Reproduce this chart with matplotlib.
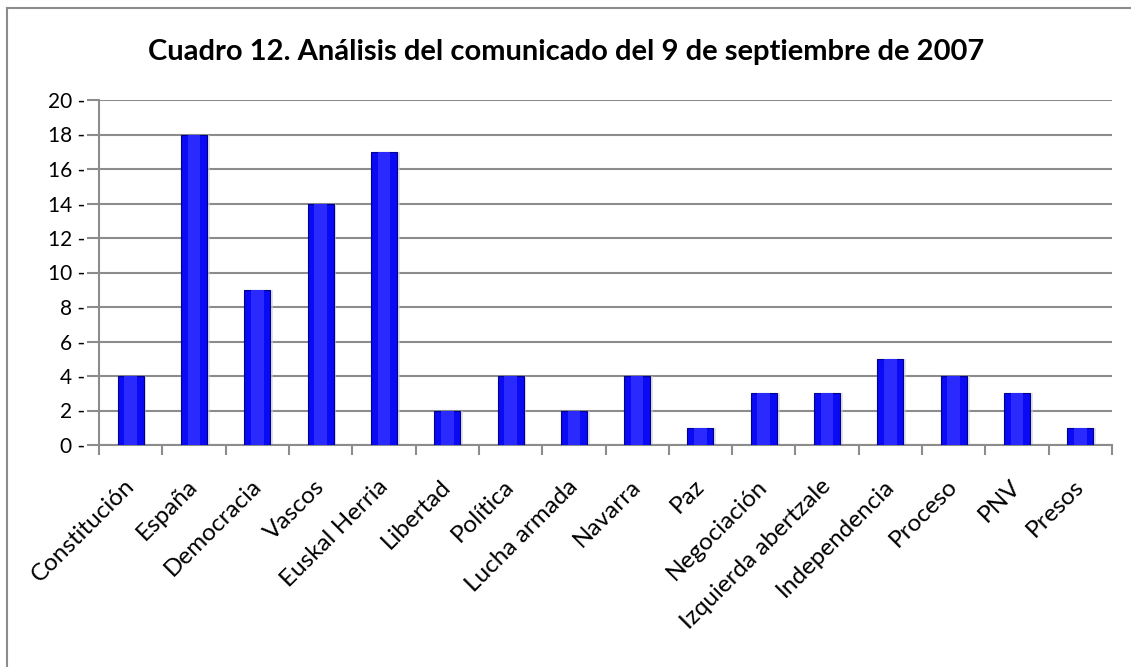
import matplotlib
matplotlib.use("Agg")
import matplotlib.pyplot as plt
import matplotlib.transforms as mtransforms
import numpy as np

categories = ["Constitución", "España", "Democracia", "Vascos", "Euskal Herria", "Libertad",
              "Política", "Lucha armada", "Navarra", "Paz", "Negociación", "Izquierda abertzale",
              "Independencia", "Proceso", "PNV", "Presos"]
values = [4, 18, 9, 14, 17, 2, 4, 2, 4, 1, 3, 3, 5, 4, 3, 1]
yticks = [0, 2, 4, 6, 8, 10, 12, 14, 16, 18, 20]
title = "Cuadro 12. Análisis del comunicado del 9 de septiembre de 2007"

plt.rcParams['font.family'] = ['Lato', 'DejaVu Sans']

W, H = 1131, 667
fig = plt.figure(figsize=(W/100, H/100), dpi=100)
fig.patch.set_facecolor('white')

# outer chart border (left and top visible)
fig.add_artist(plt.Line2D([7/W, 7/W], [0, 1 - 8/H], transform=fig.transFigure, color='#8c8c8c', lw=1.5))
fig.add_artist(plt.Line2D([7/W, 1], [1 - 8/H, 1 - 8/H], transform=fig.transFigure, color='#8c8c8c', lw=1.5))

left, right, top, bottom = 99, 1112, 100, 445
ax = fig.add_axes([left/W, 1 - bottom/H, (right-left)/W, (bottom-top)/H])

x = np.arange(len(categories))
# soft shadow
ax.bar(x + 0.04, values, width=0.42, color='#d0d0d0', alpha=0.6, zorder=2)
ax.bar(x, values, width=0.41, color='#0a0af5', edgecolor='#00008c', linewidth=0.8, zorder=3)
# subtle central highlight for the bevelled look
ax.bar(x, values, width=0.2, color='#2a2aff', linewidth=0, zorder=4)

ax.set_xlim(-0.5, len(categories) - 0.5)
ax.set_ylim(0, 20)
ax.set_yticks(yticks)
ax.set_yticklabels([f"{v} -" for v in yticks], fontsize=15)
ax.yaxis.grid(True, color='#8c8c8c', linewidth=1.5, zorder=1)
ax.set_axisbelow(True)

ax.set_xticks(x)
ax.set_xticklabels(categories, rotation=45, ha='right', rotation_mode='anchor', fontsize=17.5)
ax.tick_params(axis='x', which='major', length=0, pad=22)
shift = mtransforms.ScaledTranslation(-0.07, 0, fig.dpi_scale_trans)
for lbl in ax.get_xticklabels():
    lbl.set_transform(lbl.get_transform() + shift)
ax.set_xticks(np.arange(len(categories) + 1) - 0.5, minor=True)
ax.tick_params(axis='x', which='minor', length=7, width=1.5, color='#8c8c8c', direction='out')
ax.tick_params(axis='y', length=9, width=1.5, color='#8c8c8c', pad=1)

for s in ['top', 'right']:
    ax.spines[s].set_visible(False)
for s in ['left', 'bottom']:
    ax.spines[s].set_color('#8c8c8c')
    ax.spines[s].set_linewidth(1.5)

fig.text(566/W, 1 - 52/H, title, ha='center', va='center', fontsize=21, fontweight='bold')

fig.savefig("out.png", dpi=100)
